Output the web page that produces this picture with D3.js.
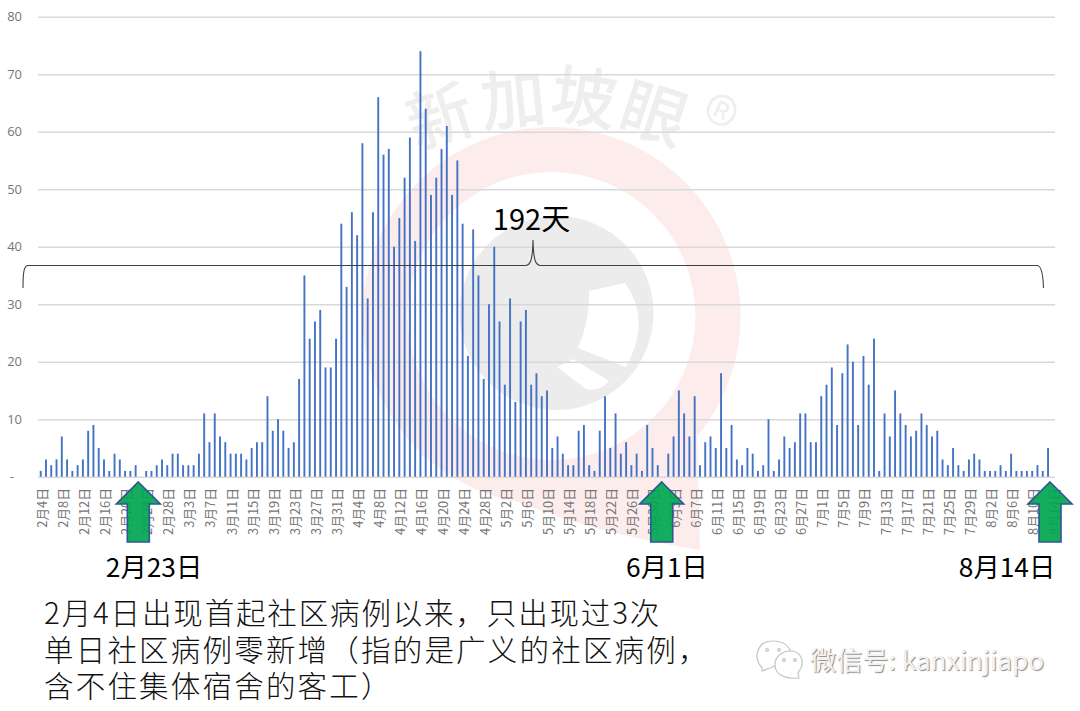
<!DOCTYPE html>
<html><head><meta charset="utf-8">
<script src="https://cdn.jsdelivr.net/npm/d3@7"></script>
<style>
html,body{margin:0;padding:0;background:#fff;overflow:hidden}
text{font-family:"Noto Sans CJK SC","Noto Sans",sans-serif}
</style></head><body>
<svg id="c" width="1080" height="711"></svg>
<script>
const dailyCases=[
1,3,2,3,7,3,1,2,3,8,9,5,3,1,4,3,1,1,2,0,1,1,2,3,2,4,4,2,2,2,4,11,6,11,7,6,4,4,4,3,5,6,6,14,8,10,8,5,6,
17,35,24,27,29,19,19,24,44,33,46,42,58,31,46,66,56,57,40,45,52,59,41,74,64,49,52,57,61,49,55,44,21,43,35,17,30,40,27,16,31,13,27,29,16,18,14,
15,5,7,4,2,2,8,9,2,1,8,14,5,11,4,6,2,4,1,9,5,2,0,4,7,15,11,7,14,2,6,7,5,
18,5,9,3,2,5,4,1,2,10,1,3,7,5,6,11,11,6,6,14,16,19,9,18,23,20,9,21,16,24,1,11,7,15,11,9,7,8,11,9,7,8,3,2,5,2,1,3,4,3,1,1,1,2,1,4,1,1,1,1,2,1,5,0];
const tickLabels=["2月4日","2月8日","2月12日","2月16日","2月20日","2月24日","2月28日","3月3日","3月7日","3月11日","3月15日","3月19日","3月23日","3月27日","3月31日","4月4日","4月8日","4月12日","4月16日","4月20日","4月24日","4月28日","5月2日","5月6日","5月10日","5月14日","5月18日","5月22日","5月26日","5月30日","6月3日","6月7日","6月11日","6月15日","6月19日","6月23日","6月27日","7月1日","7月5日","7月9日","7月13日","7月17日","7月21日","7月25日","7月29日","8月2日","8月6日","8月10日","8月14日"];
const yTicks=[0,10,20,30,40,50,60,70,80];
const zeroDays=[19,118,192];
const zeroDayLabels=["2月23日","6月1日","8月14日"];
const spanLabel="192天";
const noteLines=["2月4日出现首起社区病例以来，只出现过3次","单日社区病例零新增（指的是广义的社区病例，","含不住集体宿舍的客工）"];
const brandChars=["新","加","坡","眼","®"];

const svg=d3.select("#c");
const x=d3.scaleLinear().domain([0,192]).range([40.7,1053.3]);
const y=d3.scaleLinear().domain([0,80]).range([476.7,16.7]);

// watermark
const wm=svg.append("g");
const red="#fcecec",gry="#ececec";
wm.append("circle").attr("cx",551.5).attr("cy",316).attr("r",189).attr("fill",red);
wm.append("path").attr("d","M420,455 Q540,525 700,550 L695,350 Z").attr("fill",red);
wm.append("circle").attr("cx",551.5).attr("cy",316).attr("r",144).attr("fill","#fff");
wm.append("circle").attr("cx",556.5).attr("cy",313).attr("r",97).attr("fill",gry);
wm.append("path").attr("d","M589,291 L625,283 Q652,320 626,367 L578,348 Q590,320 589,291 Z").attr("fill","#fff");
wm.append("path").attr("d","M557,367 L573,359 L609,381 Q600,392 586,389 Z").attr("fill","#fff");
const brandPlace=[[440,117,-18,66],[513,100,-6,66],[584,98,8,66],[654,114,18,66],[715,124,25,72]];
wm.append("g").selectAll("text").data(brandChars).join("text")
  .attr("transform",(d,i)=>`translate(${brandPlace[i][0]},${brandPlace[i][1]}) rotate(${brandPlace[i][2]})`)
  .attr("text-anchor","middle").attr("dy","0.36em")
  .attr("font-size",(d,i)=>brandPlace[i][3]).attr("font-weight",(d,i)=>i===4?300:500).attr("fill","#eeeeee").text(d=>d);

// y axis + grid
const yAxis=d3.axisLeft(y).tickValues(yTicks).tickSize(-1017).tickPadding(16)
  .tickFormat(d=>d===0?"-":d);
const gy=svg.append("g").attr("transform","translate(38,0)").call(yAxis);
gy.select(".domain").remove();
gy.selectAll("line").attr("stroke","#d9d9d9").attr("stroke-width",1.4);
gy.selectAll("text").attr("fill","#767676").attr("font-size",13)
  .style("font-family","'Open Sans',sans-serif")
  .attr("dx",d=>d===0?-8:0);

// bars
svg.append("g").selectAll("rect").data(dailyCases).join("rect")
  .attr("x",(d,i)=>x(i)-0.95).attr("width",1.9)
  .attr("y",d=>y(d)).attr("height",d=>y(0)-y(d))
  .attr("fill","#4472c4");

// x axis labels
const xAxis=d3.axisBottom(x).tickValues(tickLabels.map((_,i)=>i*4)).tickSize(0)
  .tickFormat(d=>tickLabels[d/4]);
const gx=svg.append("g").attr("transform","translate(1,488)").call(xAxis);
gx.select(".domain").remove();
gx.selectAll("text").attr("fill","#757575").attr("font-size",12.8)
  .attr("text-anchor","end").attr("dy",0)
  .attr("transform","rotate(-90)").attr("x",0).attr("y",4.5);

// bracket
svg.append("path").attr("fill","none").attr("stroke","#404040").attr("stroke-width",1.1)
 .attr("d","M23,288 C23,272 24,265.5 28,265.5 L525,265.5 C530,265.5 532.5,262 533,240 C533.5,262 536,265.5 541,265.5 L1037,265.5 C1041,265.5 1043,272 1043.5,288");
svg.append("text").attr("x",531.5).attr("y",230).attr("text-anchor","middle").attr("font-size",29).attr("fill","#000").text(spanLabel);

// arrows (the reference's shapes sit a little left of their days)
const arrow=d3.line();
const arrowNudge=[-2.6,-1.3,-3.3];
svg.append("g").selectAll("path").data(zeroDays).join("path")
  .attr("transform",(d,i)=>`translate(${x(d)+arrowNudge[i]},0)`)
  .attr("d",()=>arrow([[0,482],[22,504],[11,504],[11,542],[-11,542],[-11,504],[-22,504]])+"Z")
  .attr("fill","#00a650").attr("fill-opacity",0.92).attr("stroke","#2f5597").attr("stroke-width",1.6);

// zero-day labels
svg.append("g").selectAll("text").data(zeroDayLabels).join("text")
  .attr("x",(d,i)=>[154,667,1007][i]).attr("y",577).attr("text-anchor","middle")
  .attr("font-size",26.3).attr("fill","#000").text(d=>d);

// note
svg.append("g").selectAll("text").data(noteLines).join("text")
  .attr("x",44).attr("y",(d,i)=>624+i*36.5).attr("font-size",29.5).attr("font-weight",300)
  .attr("letter-spacing",(d,i)=>i===0?1.85:2.2).attr("fill","#111").text(d=>d);

// wechat mark
const wc=svg.append("g").attr("fill","#fff").attr("stroke","#c4c4c4").attr("stroke-width",1.2);
wc.append("path").attr("d","M762,668 C752,656 758,641 773,641 C788,641 794,652 789,660 L770,668 L762,671 Z");
wc.append("path").attr("d","M799,678 C790,679 775,677 775,665 C775,655 784,651 790,651 C800,651 803,659 802,665 C801,670 798,672 798,673 Z");
wc.selectAll("circle").data([[767,650],[779,650],[784,660],[795,660]]).join("circle")
  .attr("cx",d=>d[0]).attr("cy",d=>d[1]).attr("r",1.4);
svg.append("text").attr("x",810).attr("y",670).attr("font-size",26.2).attr("fill","#f2f2f2")
  .style("text-shadow","1px 1px 1px #8a8a8a").text("微信号: kanxinjiapo");
</script></body></html>
